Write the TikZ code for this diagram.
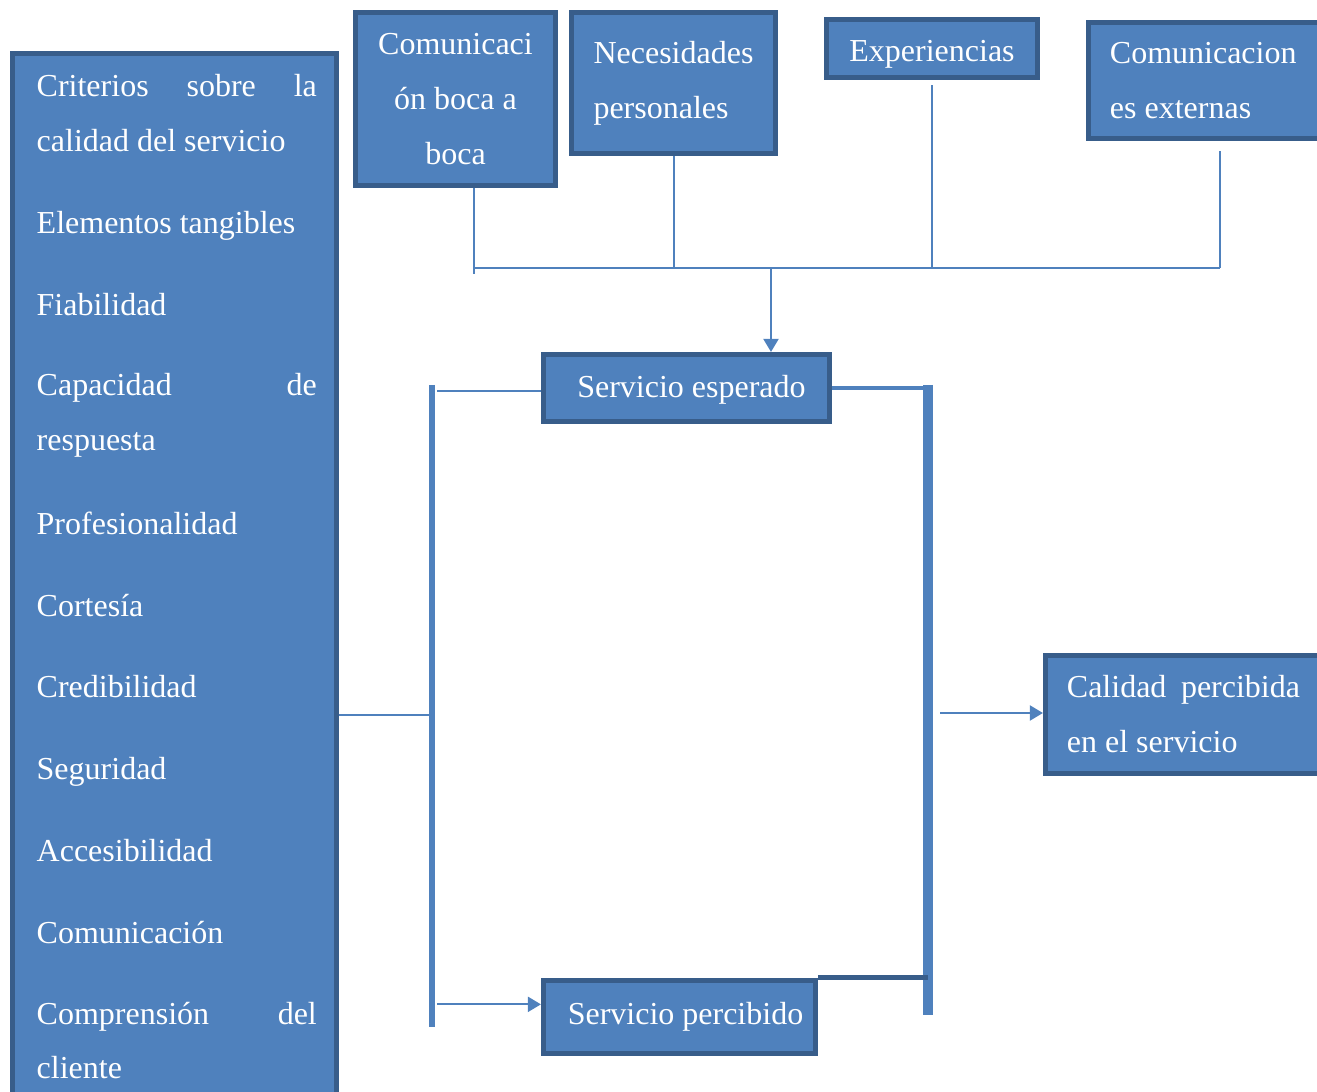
\documentclass[tikz,border=0pt]{standalone}
\usepackage{fontspec}
\setmainfont{Liberation Serif}
\usetikzlibrary{arrows.meta, positioning}
\definecolor{relleno}{HTML}{4F81BD}
\definecolor{borde}{HTML}{385D8A}

\begin{document}
\begin{tikzpicture}[
    x=0.01cm, y=-0.01cm,
    every node/.style={
      font=\fontsize{9.1pt}{15.65pt}\selectfont,
      text=white
    },
    caja/.style={
      draw=borde,
      fill=relleno,
      line width=0.05cm,
      rectangle,
      inner sep=0pt
    },
    item/.style={anchor=base west, inner sep=0pt},
    linea/.style={draw=relleno, line width=0.02cm},
    flecha/.style={linea, -{Triangle[length=0.13cm,width=0.15cm]}},
    barra/.style={draw=relleno, line width=#1},
    barra/.default=0.06cm
  ]
    \clip (0,0) rectangle (1317,1092);

    % criterios
    \node[caja, minimum width=3.24cm, minimum height=10.56cm] (criterios) at (174.5,582) {};
    \node[item] (crit1) at (36,97) {\makebox[2.80cm][s]{Criterios sobre la}};
    \node[item] (crit2) at (36,152) {calidad del servicio};
    \node[item] (capa1) at (36,396) {\makebox[2.80cm][s]{Capacidad de}};
    \node[item] (capa2) at (36,451) {respuesta};
    \node[item] (comp1) at (36,1025) {\makebox[2.80cm][s]{Comprensión del}};
    \node[item] (comp2) at (36,1079) {cliente};
    \foreach \t/\y in {Elementos tangibles/234, Fiabilidad/316,
        Profesionalidad/535, Cortesía/617, Credibilidad/698,
        Seguridad/780, Accesibilidad/862, Comunicación/944}
      \node[item] (crit\y) at (36,\y) {\t};

    % factores
    \node[caja, minimum width=2.00cm, minimum height=1.73cm, align=center] (boca) at (455.5,99) {Comunicaci\\ón boca a\\boca};
    \node[caja, minimum width=2.04cm, minimum height=1.41cm, align=left] (necesidades) at (673.5,83) {Necesidades\\personales};
    \node[caja, minimum width=2.11cm, minimum height=0.58cm, text height=0.27cm, text depth=0cm] (experiencias) at (932,48.5) {Experiencias};
    \node[caja, minimum width=2.60cm, minimum height=1.16cm, text width=2.17cm, align=left] (externas) at (1218.5,80.5) {\spaceskip=0pt Comunicacion\\es externas};

    % servicio
    \node[caja, minimum width=2.86cm, minimum height=0.67cm, text height=0.2cm, text depth=0cm] (esperado) at (686.5,388) {\hspace{0.1cm}Servicio esperado};
    \node[caja, minimum width=2.72cm, minimum height=0.73cm] (percibido) at (679.5,1017) {\hspace{0.12cm}Servicio percibido};
    \node[caja, minimum width=2.80cm, minimum height=1.18cm, text width=2.37cm, align=left] (calidad) at (1185.5,714.5) {\spaceskip=0pt \makebox[2.33cm][s]{Calidad percibida}\\en el servicio};

    % conexiones
    \coordinate (busL) at (474,268);
    \coordinate (busM) at (771,268);
    \coordinate (busR) at (1220,268);
    \coordinate (izqT) at (432,385);
    \coordinate (izqB) at (432,1027);
    \coordinate (izqM) at (432,715);
    \coordinate (derT) at (928,385);
    \coordinate (derB) at (928,1015);
    \coordinate (derM) at (940,713);

    \draw[linea] (boca.south -| busL) -- ++(0,86);
    \draw[linea] (necesidades.south) -- (necesidades.south |- busL);
    \draw[linea, shorten <=0.05cm] (experiencias.south) -- (experiencias.south |- busL);
    \draw[linea, shorten <=0.1cm] (externas.south -| busR) -- (busR);
    \draw[linea] (busL) -- (busR);
    \draw[flecha] (busM) -- (esperado.north -| busM);

    \draw[linea] (izqM -| criterios.east) -- (izqM);
    \draw[barra] (izqT) -- (izqB);
    \draw[linea] ([yshift=-0.06cm]izqT) ++(5,0) -- ([yshift=-0.06cm]izqT -| esperado.west);
    \draw[flecha] ([yshift=-6.19cm]izqT) ++(5,0) -- ([yshift=-6.19cm]izqT -| percibido.west);

    \draw[barra=0.1cm] (derT) -- (derB);
    \draw[barra=0.04cm] (esperado.east) -- (esperado.east -| derT);
    \draw[draw=borde, line width=0.05cm] (percibido.north east) -- (percibido.north east -| derT);
    \draw[flecha] (derM) -- (derM -| calidad.west);
  \end{tikzpicture}
\end{document}
